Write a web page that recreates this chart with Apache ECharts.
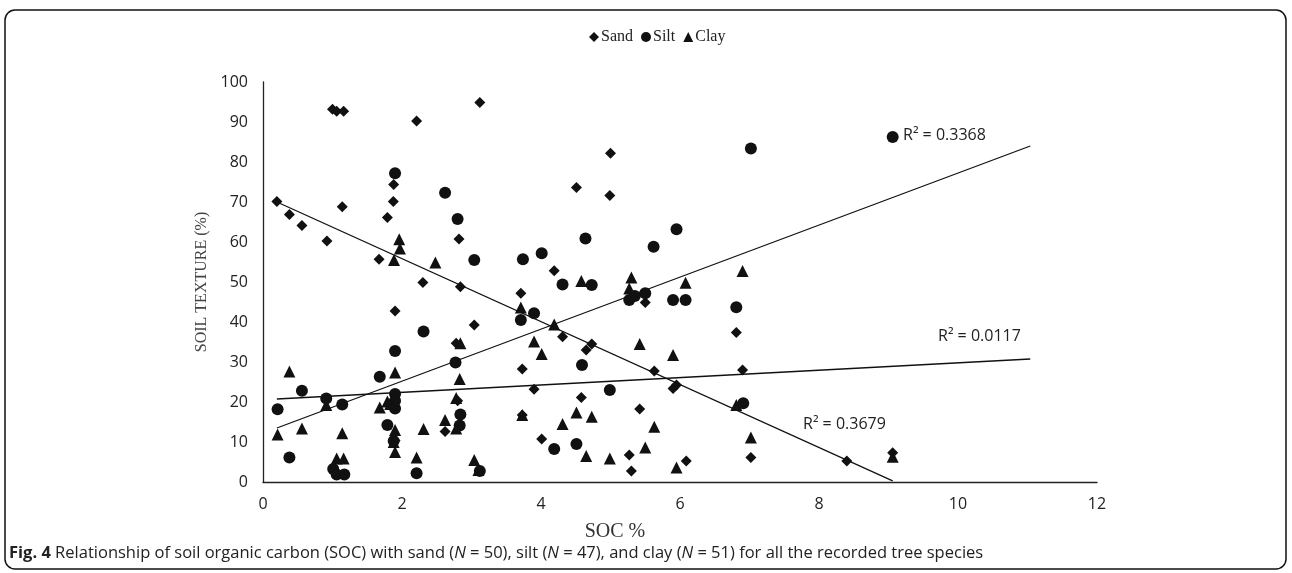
<!DOCTYPE html>
<html>
<head>
<meta charset="utf-8">
<script src="https://cdn.jsdelivr.net/npm/echarts@6/dist/echarts.min.js"></script>
<style>
html,body{margin:0;padding:0;background:#fff;}
#chart{width:1292px;height:573px;}
</style>
</head>
<body>
<div id="chart"></div>
<script>
// ---- data ----
const xTicks = [0, 2, 4, 6, 8, 10, 12];
const yTicks = [0, 10, 20, 30, 40, 50, 60, 70, 80, 90, 100];

const sandPoints = [
  [1.00, 93.2], [1.06, 92.7], [1.16, 92.7], [0.20, 70.1], [0.38, 66.9],
  [0.56, 64.1], [0.92, 60.25], [1.14, 68.8], [1.67, 55.7], [1.79, 66.1],
  [2.21, 90.25], [3.12, 94.9], [5.00, 82.2], [4.51, 73.6], [4.99, 71.6],
  [1.88, 74.4], [1.875, 70.1], [2.82, 60.75], [4.19, 52.8], [2.30, 49.9],
  [2.84, 48.8], [1.90, 42.75], [3.71, 47.2], [4.31, 36.3], [4.73, 34.5],
  [4.65, 33.0], [3.04, 39.25], [2.78, 34.7], [3.73, 28.25], [3.90, 23.2],
  [2.62, 12.6], [3.73, 16.75], [4.01, 10.75], [4.58, 21.1], [5.27, 6.75],
  [5.30, 2.75], [5.42, 18.25], [5.50, 44.9], [6.81, 37.4], [5.63, 27.75],
  [6.90, 28.0], [5.90, 23.4], [5.95, 24.25], [7.02, 6.1], [6.09, 5.25],
  [8.40, 5.25], [9.06, 7.3], [2.80, 20.3], [1.90, 10.4]
];

const siltPoints = [
  [1.90, 77.2], [2.62, 72.3], [2.80, 65.75], [4.64, 60.9], [3.04, 55.5],
  [3.74, 55.7], [4.01, 57.2], [4.31, 49.4], [4.73, 49.25], [5.27, 45.5],
  [7.02, 83.4], [5.95, 63.2], [5.62, 58.8], [9.06, 86.25], [0.56, 22.8],
  [0.21, 18.2], [0.38, 6.1], [0.91, 20.9], [1.14, 19.4], [1.01, 3.25],
  [1.06, 1.9], [1.17, 1.9], [1.68, 26.3], [1.79, 14.25], [3.71, 40.5],
  [3.90, 42.2], [4.59, 29.25], [2.31, 37.6], [1.90, 32.75], [2.77, 29.9],
  [1.90, 22.0], [1.90, 18.4], [2.84, 16.9], [2.83, 14.1], [2.21, 2.2],
  [3.12, 2.75], [4.19, 8.25], [4.51, 9.5], [4.99, 23.0], [5.50, 47.2],
  [5.90, 45.5], [6.08, 45.5], [6.81, 43.7], [6.91, 19.7], [1.88, 10.25],
  [5.35, 46.5], [1.90, 20.3]
];

const clayPoints = [
  [1.96, 60.7], [1.97, 58.4], [1.885, 55.5], [2.48, 54.9], [4.58, 50.25],
  [5.30, 51.1], [5.27, 48.4], [6.90, 52.75], [6.08, 49.8], [0.38, 27.6],
  [0.21, 11.9], [0.56, 13.4], [0.91, 19.25], [1.14, 12.2], [1.06, 5.9],
  [1.16, 5.9], [1.68, 18.6], [1.79, 20.1], [3.71, 43.6], [4.19, 39.4],
  [3.90, 35.1], [4.01, 32.0], [2.84, 34.7], [1.90, 27.4], [2.83, 25.75],
  [2.78, 21.0], [2.78, 13.4], [2.62, 15.5], [2.31, 13.25], [2.21, 6.1],
  [3.04, 5.5], [3.10, 3.0], [1.90, 13.0], [1.88, 10.0], [1.90, 7.5],
  [3.73, 16.75], [4.51, 17.4], [4.73, 16.3], [4.31, 14.5], [4.65, 6.5],
  [4.99, 5.9], [5.42, 34.5], [5.90, 31.75], [6.81, 19.25], [5.63, 13.8],
  [5.50, 8.6], [7.02, 11.1], [5.95, 3.6], [9.06, 6.3], [1.83, 19.5]
];

// linear trend lines (end points of the fitted lines as drawn)
const sandTrend = [[0.20, 70.0], [9.06, 0.3]];
const siltTrend = [[0.20, 13.5], [11.04, 84.0]];
const clayTrend = [[0.20, 20.75], [11.04, 30.75]];

const r2Labels = ['R² = 0.3368', 'R² = 0.0117', 'R² = 0.3679'];
const legendNames = ['Sand', 'Silt', 'Clay'];
const captionText = '{b|Fig. 4} Relationship of soil organic carbon (SOC) with sand ({i|N} = 50), silt ({i|N} = 47), and clay ({i|N} = 51) for all the recorded tree species';

// ---- chart ----
const ink = '#111';
const chart = echarts.init(document.getElementById('chart'), null, {renderer: 'canvas'});

const scatterBase = {
  type: 'scatter',
  itemStyle: {color: ink, opacity: 1},
  emphasis: {disabled: true},
  z: 3
};
const lineBase = {
  type: 'line',
  symbol: 'none',
  lineStyle: {color: ink, width: 1.3},
  emphasis: {disabled: true},
  silent: true,
  z: 2
};

const capFont = 16.5;

chart.setOption({
  animation: false,
  backgroundColor: '#fff',
  grid: {left: 263, right: 195, top: 82, bottom: 91, containLabel: false},
  legend: {
    data: legendNames,
    left: 584,
    top: 24,
    itemWidth: 10,
    itemHeight: 10,
    itemGap: 8,
    textStyle: {fontFamily: 'Liberation Serif', fontSize: 16, color: '#222', padding: [0, 0, 0, -3]},
    selectedMode: false
  },
  xAxis: {
    type: 'value',
    min: xTicks[0],
    max: xTicks[xTicks.length - 1],
    interval: xTicks[1] - xTicks[0],
    name: 'SOC %',
    nameLocation: 'middle',
    nameGap: 40,
    nameTextStyle: {fontFamily: 'Liberation Serif', fontSize: 20, color: '#333', padding: [0, 130, 0, 0]},
    axisLine: {show: true, lineStyle: {color: '#222', width: 1.3}},
    axisTick: {show: false},
    splitLine: {show: false},
    axisLabel: {fontFamily: 'Open Sans', fontSize: 16, color: '#222', margin: 14}
  },
  yAxis: {
    type: 'value',
    min: yTicks[0],
    max: yTicks[yTicks.length - 1],
    interval: yTicks[1] - yTicks[0],
    name: 'SOIL TEXTURE (%)',
    nameLocation: 'middle',
    nameGap: 52,
    nameTextStyle: {fontFamily: 'Liberation Serif', fontSize: 16, color: '#444'},
    axisLine: {show: true, lineStyle: {color: '#222', width: 1.3}},
    axisTick: {show: false},
    splitLine: {show: false},
    axisLabel: {fontFamily: 'Open Sans', fontSize: 16, color: '#222', margin: 15}
  },
  series: [
    Object.assign({}, scatterBase, {name: 'Sand', symbol: 'diamond', symbolSize: 11, data: sandPoints}),
    Object.assign({}, scatterBase, {name: 'Silt', symbol: 'circle', symbolSize: 12, data: siltPoints}),
    Object.assign({}, scatterBase, {name: 'Clay', symbol: 'triangle', symbolSize: 12, data: clayPoints}),
    Object.assign({}, lineBase, {name: 'Sand trend', data: sandTrend}),
    Object.assign({}, lineBase, {name: 'Silt trend', data: siltTrend}),
    Object.assign({}, lineBase, {name: 'Clay trend', data: clayTrend})
  ],
  graphic: [
    {
      type: 'rect', silent: true, z: 0,
      shape: {x: 5, y: 10, width: 1281, height: 559, r: 10},
      style: {fill: 'none', stroke: '#111', lineWidth: 1.5}
    },
    {
      type: 'text', silent: true, left: 903, top: 127,
      style: {text: r2Labels[0], fontFamily: 'Open Sans', fontSize: 16, fill: '#222'}
    },
    {
      type: 'text', silent: true, left: 938, top: 328,
      style: {text: r2Labels[1], fontFamily: 'Open Sans', fontSize: 16, fill: '#222'}
    },
    {
      type: 'text', silent: true, left: 803, top: 416,
      style: {text: r2Labels[2], fontFamily: 'Open Sans', fontSize: 16, fill: '#222'}
    },
    {
      type: 'text', silent: true, left: 9, top: 545,
      style: {
        text: captionText,
        fontFamily: 'Open Sans', fontSize: capFont, fill: '#222',
        rich: {
          b: {fontFamily: 'Open Sans', fontSize: capFont, fontWeight: 'bold', fill: '#222'},
          i: {fontFamily: 'Open Sans', fontSize: capFont, fontStyle: 'italic', fill: '#222'}
        }
      }
    }
  ]
});
</script>
</body>
</html>
